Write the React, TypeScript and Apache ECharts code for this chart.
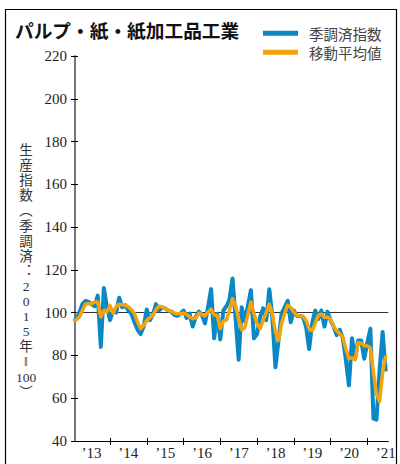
import React, { useEffect, useRef } from "react";
import * as echarts from "echarts";

const TITLE = "パルプ・紙・紙加工品工業";
const SERIES_NAMES = ["季調済指数", "移動平均値"];
const Y_AXIS_TITLE = ["生", "産", "指", "数", "︵", "季", "調", "済", "︓", "2", "0", "1", "5", "年", "‖", "100", "︶"];
const START_YEAR = 2013;
const YEAR_TICKS = [2014, 2015, 2016, 2017, 2018, 2019, 2020, 2021];
const YEAR_LABELS = [2013, 2014, 2015, 2016, 2017, 2018, 2019, 2020, 2021];

// monthly, Jan 2013 .. Jul 2021
const seasonal = [
  96, 97, 100, 104, 105.5, 105, 104, 103, 108, 84, 111.5, 102.5,
  96.5, 101, 100, 107, 102.5, 103.5, 101, 99.5, 95.5, 92, 90, 93.5,
  101.5, 96.5, 99, 104, 101, 102.5, 102, 101, 100.5, 99, 98.5, 99.5,
  101, 97.5, 99.5, 93.5, 98, 100.5, 99, 95, 102.5, 111, 88, 99.5,
  87.5, 101, 103, 106, 116, 97, 78, 102.5, 96, 103, 110.5, 88,
  90, 98, 102, 96.5, 111, 98, 74.5, 87, 99.5, 102.5, 105.5, 95.5,
  101, 98.5, 98.5, 98, 93.5, 83, 95, 101, 97, 101, 93.5, 100.5,
  96.5, 93.5, 89.5, 92, 88, 78, 66, 88, 78.5, 87, 87, 78.5,
  86, 92.5, 50.5, 50, 73, 91, 72.5,
];
const movingAvg = [
  96, 96.7, 98, 101, 104, 104.2, 104.2, 105, 105, 98, 101, 100.3,
  103.4, 99.8, 102.7, 104, 103.7, 103.5, 102.7, 101.4, 99.5, 95.6, 92.5, 94,
  96.4, 97.7, 98.7, 101.4, 103, 102.7, 101.9, 101, 100.8, 99.8, 99.5, 99.5,
  99.8, 99.2, 98, 97.2, 97.5, 99.8, 99.2, 98.5, 100.3, 101.5, 99, 98.7,
  92.5, 96, 96.5, 101, 106.5, 103, 97, 92, 93, 99, 105, 99.5,
  95, 92.5, 96.5, 100, 104, 99.5, 91, 87, 95, 99.5, 103.5, 102.5,
  100.3, 98.7, 98.5, 98.3, 96.4, 92.5, 91.5, 95, 98.7, 99.3, 97.8, 98,
  97, 93.5, 91.5, 90.2, 88.5, 83, 78.5, 79, 78, 86, 85.7, 84.5,
  84.5, 83.5, 72, 62, 58.5, 72, 80,
];

const BLUE = "#0a88c6";
const ORANGE = "#f5a30a";
const SERIF = "Liberation Serif, Times New Roman, DejaVu Serif, serif";
const CJK = "Noto Sans CJK JP, sans-serif";

const toXY = (arr: number[]) => arr.map((v, i) => [START_YEAR + i / 12, v]);

export default function App() {
  const ref = useRef<HTMLDivElement>(null);
  useEffect(() => {
    if (!ref.current) return;
    const chart = echarts.init(ref.current, null, { renderer: "svg" });
    const xMin = 2013.048;
    const xMax = 2021.571;
    chart.setOption({
      animation: false,
      backgroundColor: "#fff",
      grid: { left: 75, right: 11.7, top: 56, bottom: 23 },
      legend: {
        orient: "vertical",
        left: 258,
        top: 21,
        itemWidth: 35,
        itemHeight: 5,
        itemGap: 4.5,
        icon: "rect",
        data: SERIES_NAMES,
        textStyle: {
          fontSize: 14.5,
          lineHeight: 13.5,
          color: "#444",
          fontFamily: CJK,
          padding: [0, 0, 0, 6],
        },
      },
      graphic: [
        {
          type: "rect",
          shape: { x: 5.5, y: 9.5, width: 391, height: 470 },
          style: { fill: "none", stroke: "#000", lineWidth: 1.2 },
          silent: true,
        },
        {
          type: "text",
          x: 15,
          y: 29,
          style: {
            text: TITLE,
            fontSize: 18.7,
            fontWeight: "bold",
            fontFamily: CJK,
            fill: "#111",
            verticalAlign: "middle",
          },
        },
        {
          type: "text",
          x: 26,
          y: 143,
          style: {
            text: Y_AXIS_TITLE.join("\n"),
            fontSize: 13.5,
            lineHeight: 15.1,
            fontFamily: "Liberation Serif, Noto Sans CJK JP, serif",
            fill: "#333",
            align: "center",
          },
        },
      ],
      xAxis: [
        {
          type: "value",
          min: xMin,
          max: xMax,
          axisLine: { show: true, lineStyle: { color: "#000", width: 1 } },
          axisTick: {
            show: true,
            customValues: YEAR_TICKS,
            length: 4,
            lineStyle: { color: "#000", width: 1 },
          },
          axisLabel: {
            customValues: YEAR_LABELS.map((y) => y + 0.5),
            formatter: (v: number) => "’" + String(Math.floor(v)).slice(2),
            margin: 4,
            fontSize: 15,
            fontFamily: SERIF,
            color: "#222",
          },
          splitLine: { show: false },
        },
        {
          type: "value",
          position: "bottom",
          min: xMin,
          max: xMax,
          axisLine: { show: false },
          axisTick: {
            show: true,
            inside: true,
            customValues: YEAR_TICKS,
            length: 3,
            lineStyle: { color: "#000", width: 1 },
          },
          axisLabel: { show: false },
          splitLine: { show: false },
        },
      ],
      yAxis: [
        {
          type: "value",
          min: 40,
          max: 220,
          interval: 20,
          axisLine: { show: true, lineStyle: { color: "#777", width: 2 } },
          axisTick: { show: true, length: 4, lineStyle: { color: "#000", width: 1 } },
          axisLabel: { margin: 8, fontSize: 15, fontFamily: SERIF, color: "#222" },
          splitLine: { show: false },
        },
        {
          type: "value",
          position: "left",
          min: 40,
          max: 220,
          interval: 20,
          axisLine: { show: false },
          axisTick: { show: true, inside: true, length: 3, lineStyle: { color: "#000", width: 1 } },
          axisLabel: { show: false },
          splitLine: { show: false },
        },
      ],
      series: [
        {
          name: SERIES_NAMES[0],
          type: "line",
          data: toXY(seasonal),
          showSymbol: false,
          symbol: "none",
          color: BLUE,
          lineStyle: { color: BLUE, width: 4, join: "round" },
          markLine: {
            silent: true,
            symbol: "none",
            label: { show: false },
            lineStyle: { color: "#333", width: 1, type: "solid" },
            data: [{ yAxis: 100 }],
            z: 1,
          },
          z: 2,
        },
        {
          name: SERIES_NAMES[1],
          type: "line",
          data: toXY(movingAvg),
          showSymbol: false,
          symbol: "none",
          color: ORANGE,
          lineStyle: { color: ORANGE, width: 3.5, join: "round" },
          z: 3,
        },
      ],
    });
    return () => chart.dispose();
  }, []);
  return (
    <div
      ref={ref}
      style={{ position: "fixed", left: 0, top: 0, width: 400, height: 464 }}
    />
  );
}
